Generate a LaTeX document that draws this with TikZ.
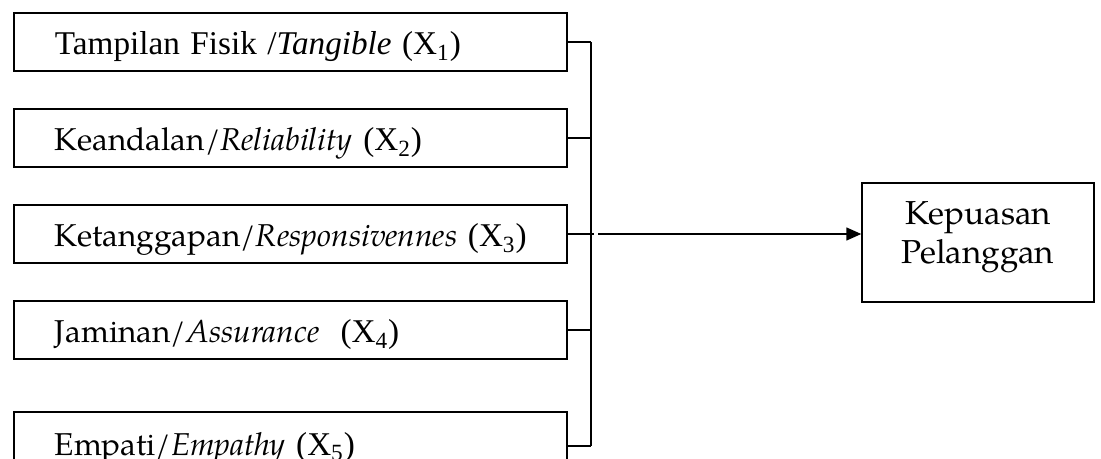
\documentclass[tikz,border=0pt]{standalone}
\usepackage{fontspec}
\newfontfamily\timesf{Liberation Serif}
\newfontfamily\palf{texgyrepagella}[Extension=.otf, UprightFont=*-regular, ItalicFont=*-italic, BoldFont=*-bold, BoldItalicFont=*-bolditalic]
\usetikzlibrary{arrows.meta,calc}
\newcommand\tnr{\timesf\fontsize{16.6}{19}\selectfont}
\tikzset{
  varbox/.style={draw, line width=0.7pt, inner xsep=0pt, inner ysep=0pt,
    text width=276.5pt, minimum height=29pt, align=left,
    text height=13pt, text depth=0pt, font=\palf\fontsize{15.8}{19}\selectfont},
  kpbox/.style={draw, line width=0.7pt, minimum width=116pt, minimum height=59.5pt,
    inner sep=0pt, align=center, font=\palf\fontsize{16.6}{19.5}\selectfont},
  conn/.style={line width=0.7pt},
  arr/.style={line width=0.7pt, -{Triangle[length=7.5pt,width=6.5pt]}}
}
\begin{document}
\begin{tikzpicture}[x=0.5pt,y=-0.5pt]
\useasboundingbox (0,0) rectangle (1101,459);
\clip (0,0) rectangle (1101,459);
\node[varbox] (b1) at (290.5,42) {\hspace*{20.5pt}{\tnr Tampilan Fisik /\textit{Tangible} (X\textsubscript{1})}};
\node[varbox] (b2) at (290.5,138) {\hspace*{20.5pt}Keandalan/\textit{Reliability} {\tnr(X\textsubscript{2})}};
\node[varbox] (b3) at (290.5,234) {\hspace*{20.5pt}Ketanggapan/\textit{Responsivennes} {\tnr(X\textsubscript{3})}};
\node[varbox] (b4) at (290.5,330) {\hspace*{20.5pt}Jaminan/\textit{Assurance}\ \ {\tnr(X\textsubscript{4})}};
\node[varbox, minimum height=34pt, text height=9pt] (b5) at (290.5,446) {\hspace*{20.5pt}Empati/\textit{Empathy} {\tnr(X\textsubscript{5})}};
\node[kpbox] (kp) at (978,242.5) {Kepuasan\\Pelanggan\rule[-9.5pt]{0pt}{9.5pt}};
\coordinate (bt) at (591,42);
\coordinate (bb) at (591,446);
\coordinate (bx) at (594,234);
\coordinate (as) at (598,234);
\draw[conn] (bt) -- (bb);
\draw[conn] (b1.east) -- (bt);
\draw[conn] (b2.east) -- (b2.east -| bt);
\draw[conn] (b3.east) -- (bx);
\draw[conn] (b4.east) -- (b4.east -| bt);
\draw[conn] (b5.east) -- (bb);
\draw[arr] (as) -- (kp.west |- as);
\end{tikzpicture}
\end{document}
